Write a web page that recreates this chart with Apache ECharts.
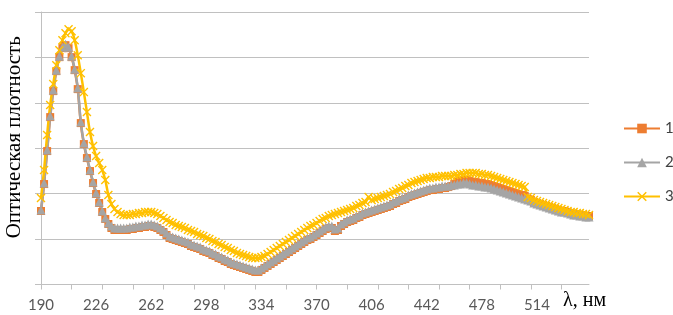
<!DOCTYPE html>
<html>
<head>
<meta charset="utf-8">
<script src="https://cdn.jsdelivr.net/npm/echarts@6/dist/echarts.min.js"></script>
<style>
  html, body { margin: 0; padding: 0; background: #fff; }
  #chart { width: 673px; height: 315px; }
</style>
</head>
<body>
<div id="chart"></div>
<script>
// длина волны, нм (шаг 2 нм)
const wavelengths = [
  190,192,194,196,198,200,202,204,206,208,210,212,214,216,218,220,222,224,226,228,
  230,232,234,236,238,240,242,244,246,248,250,252,254,256,258,260,262,264,266,268,
  270,272,274,276,278,280,282,284,286,288,290,292,294,296,298,300,302,304,306,308,
  310,312,314,316,318,320,322,324,326,328,330,332,334,336,338,340,342,344,346,348,
  350,352,354,356,358,360,362,364,366,368,370,372,374,376,378,380,382,384,386,388,
  390,392,394,396,398,400,402,404,406,408,410,412,414,416,418,420,422,424,426,428,
  430,432,434,436,438,440,442,444,446,448,450,452,454,456,458,460,462,464,466,468,
  470,472,474,476,478,480,482,484,486,488,490,492,494,496,498,500,502,504,506,508,
  510,512,514,516,518,520,522,524,526,528,530,532,534,536,538,540,542,544,546,548
];

const series1 = [
  0.809,1.106,1.469,1.843,2.129,2.349,2.503,2.602,2.635,2.602,
  2.503,2.360,2.151,1.777,1.546,1.392,1.249,1.117,0.996,0.897,
  0.798,0.721,0.666,0.622,0.600,0.600,0.600,0.600,0.600,0.611,
  0.611,0.622,0.622,0.633,0.633,0.644,0.644,0.633,0.622,0.600,
  0.578,0.545,0.512,0.501,0.490,0.479,0.468,0.457,0.446,0.424,
  0.413,0.402,0.391,0.369,0.358,0.347,0.325,0.314,0.292,0.281,
  0.259,0.248,0.226,0.215,0.204,0.193,0.182,0.171,0.160,0.149,
  0.138,0.138,0.160,0.182,0.204,0.226,0.248,0.270,0.292,0.314,
  0.336,0.358,0.380,0.402,0.424,0.446,0.468,0.490,0.501,0.523,
  0.545,0.567,0.589,0.611,0.622,0.622,0.589,0.600,0.644,0.666,
  0.688,0.699,0.710,0.732,0.743,0.765,0.776,0.787,0.798,0.809,
  0.820,0.831,0.842,0.853,0.864,0.886,0.897,0.919,0.930,0.941,
  0.963,0.974,0.985,0.996,1.007,1.018,1.029,1.040,1.040,1.051,
  1.051,1.062,1.062,1.073,1.084,1.106,1.128,1.139,1.150,1.150,
  1.139,1.128,1.128,1.117,1.117,1.106,1.106,1.095,1.084,1.073,
  1.062,1.051,1.040,1.029,1.018,1.007,0.996,0.985,0.974,0.941,
  0.930,0.908,0.897,0.886,0.875,0.864,0.853,0.842,0.831,0.820,
  0.809,0.809,0.798,0.787,0.776,0.776,0.765,0.765,0.754,0.754
];

const series2 = [
  0.820,1.117,1.480,1.854,2.140,2.360,2.514,2.613,2.646,2.613,
  2.514,2.371,2.162,1.788,1.557,1.403,1.260,1.128,1.007,0.908,
  0.809,0.732,0.677,0.644,0.622,0.622,0.622,0.622,0.622,0.633,
  0.633,0.644,0.644,0.655,0.655,0.666,0.666,0.655,0.644,0.622,
  0.600,0.567,0.534,0.523,0.512,0.501,0.490,0.479,0.468,0.446,
  0.435,0.424,0.413,0.391,0.380,0.369,0.347,0.336,0.314,0.303,
  0.281,0.270,0.248,0.237,0.226,0.215,0.204,0.193,0.182,0.171,
  0.160,0.160,0.182,0.204,0.226,0.248,0.270,0.292,0.314,0.336,
  0.358,0.380,0.402,0.424,0.446,0.468,0.490,0.512,0.523,0.545,
  0.567,0.589,0.611,0.633,0.644,0.644,0.611,0.622,0.666,0.688,
  0.710,0.721,0.732,0.754,0.765,0.787,0.798,0.809,0.820,0.831,
  0.842,0.853,0.864,0.875,0.886,0.908,0.919,0.941,0.952,0.963,
  0.985,0.996,1.007,1.018,1.029,1.040,1.051,1.062,1.062,1.073,
  1.073,1.084,1.084,1.084,1.095,1.095,1.106,1.106,1.117,1.117,
  1.106,1.095,1.095,1.084,1.084,1.073,1.073,1.062,1.051,1.040,
  1.029,1.018,1.007,0.996,0.985,0.974,0.963,0.952,0.941,0.930,
  0.919,0.897,0.886,0.875,0.864,0.853,0.842,0.831,0.820,0.809,
  0.798,0.798,0.787,0.776,0.765,0.765,0.754,0.754,0.743,0.743
];

const series3 = [
  0.952,1.260,1.645,1.975,2.206,2.415,2.580,2.690,2.767,2.811,
  2.789,2.690,2.525,2.327,2.118,1.898,1.678,1.524,1.414,1.337,
  1.260,1.150,0.985,0.886,0.831,0.798,0.776,0.765,0.765,0.765,
  0.776,0.776,0.787,0.787,0.798,0.798,0.798,0.787,0.776,0.754,
  0.732,0.710,0.688,0.677,0.655,0.644,0.633,0.622,0.600,0.589,
  0.578,0.556,0.545,0.534,0.512,0.501,0.479,0.468,0.446,0.435,
  0.413,0.402,0.380,0.369,0.347,0.336,0.325,0.314,0.303,0.292,
  0.292,0.292,0.303,0.314,0.336,0.358,0.380,0.402,0.424,0.446,
  0.468,0.490,0.512,0.534,0.556,0.578,0.600,0.622,0.644,0.655,
  0.677,0.699,0.721,0.732,0.754,0.765,0.776,0.787,0.798,0.809,
  0.820,0.831,0.842,0.864,0.875,0.897,0.908,0.963,0.930,0.941,
  0.952,0.963,0.974,0.985,0.996,1.018,1.029,1.051,1.062,1.084,
  1.095,1.117,1.128,1.139,1.150,1.161,1.172,1.172,1.183,1.183,
  1.183,1.194,1.194,1.194,1.194,1.205,1.205,1.216,1.216,1.227,
  1.227,1.227,1.227,1.216,1.216,1.205,1.205,1.194,1.183,1.172,
  1.161,1.150,1.139,1.128,1.117,1.106,1.095,1.084,1.073,0.963,
  0.952,0.930,0.919,0.908,0.897,0.886,0.875,0.864,0.853,0.842,
  0.831,0.820,0.809,0.798,0.798,0.787,0.787,0.776,0.776,0.765
];

const seriesNames = ["1", "2", "3"];

// крестик как у маркера "x" в Excel
const crossSymbol = "path://M0,1.1L1.1,0L5,3.9L8.9,0L10,1.1L6.1,5L10,8.9L8.9,10L5,6.1L1.1,10L0,8.9L3.9,5Z";

const gridColor = "#c0c0c0";
const textColor = "#595959";

const chart = echarts.init(document.getElementById("chart"));

chart.setOption({
  animation: false,
  backgroundColor: "#fff",
  grid: {
    left: 41,
    right: 84,
    top: 12,
    bottom: 30.5,
    containLabel: false,
    outerBoundsMode: "none",
  },
  legend: {
    orient: "vertical",
    left: 623,
    top: 121,
    padding: 0,
    itemWidth: 36,
    itemHeight: 12,
    itemGap: 19,
    textStyle: { fontFamily: "Lato", fontSize: 15, color: "#404040" },
    data: seriesNames,
  },
  xAxis: {
    type: "category",
    boundaryGap: false,
    data: wavelengths,
    name: "λ, нм",
    nameLocation: "end",
    nameGap: -26,
    nameTextStyle: {
      fontFamily: "Liberation Serif",
      fontSize: 20,
      color: "#000",
      align: "left",
      verticalAlign: "top",
      padding: [6, 0, 0, 0],
    },
    axisLine: { lineStyle: { color: gridColor, width: 1 } },
    axisTick: { interval: 9, length: 5, lineStyle: { color: gridColor } },
    axisLabel: {
      interval: 17,
      margin: 13,
      fontFamily: "Lato",
      fontSize: 15,
      color: textColor,
    },
    splitLine: { show: false },
  },
  yAxis: {
    type: "value",
    min: 0,
    max: 3,
    interval: 0.5,
    name: "Оптическая плотность",
    nameLocation: "middle",
    nameRotate: 90,
    nameGap: 16,
    nameTextStyle: {
      fontFamily: "Liberation Serif",
      fontSize: 21,
      color: "#000",
      padding: [0, 0, 0, 22],
    },
    axisLine: { show: true, lineStyle: { color: gridColor, width: 1 } },
    axisTick: { show: true, length: 6, lineStyle: { color: gridColor } },
    axisLabel: { show: false },
    splitLine: { lineStyle: { color: gridColor, width: 1 } },
  },
  series: [
    {
      name: "1",
      type: "line",
      data: series1,
      smooth: 0.4,
      showAllSymbol: true,
      symbol: "rect",
      symbolSize: 8,
      itemStyle: { color: "#ED7D31" },
      lineStyle: { color: "#ED7D31", width: 2.5 },
    },
    {
      name: "2",
      type: "line",
      data: series2,
      smooth: 0.4,
      showAllSymbol: true,
      symbol: "triangle",
      symbolSize: 9,
      itemStyle: { color: "#A5A5A5" },
      lineStyle: { color: "#A5A5A5", width: 2.5 },
    },
    {
      name: "3",
      type: "line",
      data: series3,
      smooth: 0.4,
      showAllSymbol: true,
      symbol: crossSymbol,
      symbolSize: 9,
      itemStyle: { color: "#FFC000" },
      lineStyle: { color: "#FFC000", width: 2.5 },
    },
  ],
});

window.addEventListener("resize", () => {
  chart.resize();
});
</script>
</body>
</html>
